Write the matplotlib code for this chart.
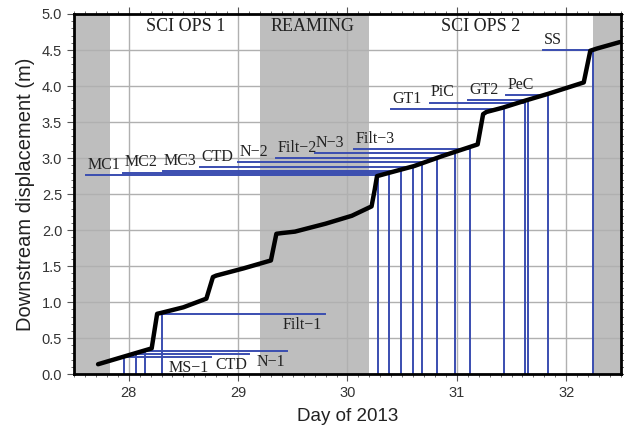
import matplotlib
matplotlib.use("Agg")
import matplotlib.pyplot as plt
from matplotlib.ticker import MultipleLocator

# Displacement curve (day of 2013, metres)
curve_day = [27.72, 28.21, 28.26, 28.29, 28.50, 28.71, 28.77, 28.80, 29.05, 29.30, 29.35, 29.40,
             29.52, 29.80, 30.04, 30.22, 30.25, 30.27, 30.39, 30.61, 30.87, 31.11, 31.19, 31.24,
             31.27, 31.42, 31.63, 31.83, 32.16, 32.22, 32.28, 32.49]
curve_disp = [0.14, 0.36, 0.84, 0.85, 0.93, 1.05, 1.35, 1.37, 1.47, 1.58, 1.95, 1.96,
              1.98, 2.09, 2.20, 2.33, 2.57, 2.75, 2.80, 2.89, 3.03, 3.15, 3.19, 3.61,
              3.64, 3.70, 3.80, 3.89, 4.05, 4.49, 4.52, 4.61]

# Shaded periods
shade_start = [27.5, 29.2, 32.24]
shade_end = [27.83, 30.2, 32.5]

# Period labels
period_names = ["SCI OPS 1", "REAMING", "SCI OPS 2"]
period_day = [28.52, 29.68, 31.22]

# Upper events: label extends left from event time
up_names = ["MC1", "MC2", "MC3", "CTD", "N\u22122", "Filt\u22122", "N\u22123", "Filt\u22123",
            "GT1", "PiC", "GT2", "PeC", "SS"]
up_day = [30.28, 30.38, 30.49, 30.60, 30.68, 30.82, 30.98, 31.12,
          31.43, 31.62, 31.65, 31.83, 32.24]
up_disp = [2.76, 2.80, 2.82, 2.88, 2.94, 3.00, 3.07, 3.13,
           3.68, 3.77, 3.80, 3.88, 4.50]
up_label_day = [27.61, 27.95, 28.31, 28.65, 29.00, 29.35, 29.70, 30.06,
                30.40, 30.75, 31.10, 31.45, 31.79]

# Lower events: label extends right from event time
low_names = ["MS\u22121", "CTD", "N\u22121", "Filt\u22121"]
low_day = [27.96, 28.07, 28.15, 28.30]
low_disp = [0.237, 0.283, 0.325, 0.84]
low_label_day = [28.75, 29.10, 29.45, 29.79]

blue = "#3a4db0"
gray_shade = "#bebebe"

fig = plt.figure(figsize=(6.24, 4.30), dpi=100)
ax = fig.add_axes([0.1186, 0.1295, 0.8765, 0.8380])

for s, e in zip(shade_start, shade_end):
    ax.axvspan(s, e, color=gray_shade, lw=0, zorder=0)

ax.set_xlim(27.5, 32.5)
ax.set_ylim(0, 5)
ax.xaxis.set_major_locator(MultipleLocator(1))
ax.xaxis.set_minor_locator(MultipleLocator(0.1))
ax.yaxis.set_major_locator(MultipleLocator(0.5))
ax.yaxis.set_minor_locator(MultipleLocator(0.1))
ax.yaxis.set_major_formatter(matplotlib.ticker.FormatStrFormatter("%.1f"))
ax.grid(True, which="major", color="#b0b0b0", lw=1.0, zorder=1)
ax.set_axisbelow(True)

ax.tick_params(which="both", direction="out", top=True, right=True, color="#555555",
               labelcolor="#333333", labelsize=10.5, labelfontfamily="Liberation Sans")
ax.tick_params(which="major", length=5, width=0.8)
ax.tick_params(which="minor", length=2.5, width=0.6)
for sp in ax.spines.values():
    sp.set_linewidth(2.0)
    sp.set_zorder(6)

# event lines
for d, y, lx in zip(up_day, up_disp, up_label_day):
    ax.plot([d, d], [0, y], color=blue, lw=1.4, zorder=3)
    ax.plot([lx, d], [y, y], color=blue, lw=1.4, zorder=3)
for d, y, lx in zip(low_day, low_disp, low_label_day):
    ax.plot([d, d], [0, y], color=blue, lw=1.4, zorder=3)
    ax.plot([d, lx], [y, y], color=blue, lw=1.4, zorder=3)

ax.plot(curve_day, curve_disp, color="black", lw=3.2, solid_capstyle="round",
        solid_joinstyle="round", zorder=4)

serif = "Liberation Serif"
for n, lx, y in zip(up_names, up_label_day, up_disp):
    ax.text(lx + 0.01, y + 0.03, n, family=serif, fontsize=11.5, ha="left", va="bottom",
            color="#222222", zorder=5)
for n, lx, y in zip(low_names, low_label_day, low_disp):
    ax.text(lx - 0.02, y - 0.04, n, family=serif, fontsize=11.5, ha="right", va="top",
            color="#222222", zorder=5)
for n, d in zip(period_names, period_day):
    ax.text(d, 4.83, n, family=serif, fontsize=13, ha="center", va="center",
            color="#222222", zorder=5)

ax.set_xlabel("Day of 2013", family="Liberation Sans", fontsize=13.5, color="#222222", labelpad=6)
ax.set_ylabel("Downstream displacement (m)", family="Liberation Sans", fontsize=14.5,
              color="#222222", labelpad=5)

fig.savefig("out.png", dpi=100)
